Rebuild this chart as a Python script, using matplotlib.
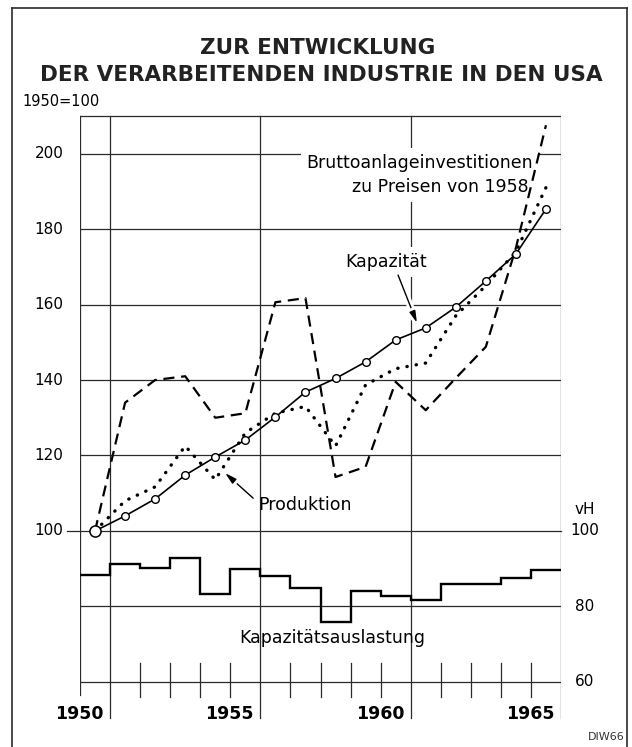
import matplotlib
matplotlib.use("Agg")
import matplotlib.pyplot as plt
import matplotlib.patheffects as pe
from matplotlib.lines import Line2D

# Daten (1950 = 100)
jahre = list(range(1950, 1966))
kapazitaet = [100, 104, 108.5, 114.8, 119.6, 124.1, 130.2, 136.8,
              140.4, 144.8, 150.6, 153.8, 159.3, 166.2, 173.4, 185.3]
produktion = [100, 108, 111.7, 122.5, 113.6, 126, 131.2, 133,
              122.5, 138.7, 143, 144.5, 157, 165, 174, 191]
investitionen = [100, 134, 140, 141, 130, 131.2, 160.6, 161.7,
                 114.3, 117, 139.5, 132, 140.5, 148.8, 175, 207.5]
# Kapazitätsauslastung in vH
auslastung = [88.3, 91.3, 90.2, 92.9, 83.3, 89.9, 88, 85,
              75.9, 84, 82.8, 81.7, 86, 86, 87.6, 89.7]

links_werte = [200, 180, 160, 140, 120, 100]
rechts_werte = [100, 80, 60]
jahr_labels = [1950, 1955, 1960, 1965]

W, H = 632, 747
fig = plt.figure(figsize=(W / 100, H / 100), dpi=100)


def fx(x):
    return x / W


def fy(y):
    return 1 - y / H


# Achse: 1950..1966 (jedes Jahr ein Intervall), 49.5..210.5
ax = fig.add_axes([fx(80), fy(721.6), 481 / W, (721.6 - 113.9) / H])
ax.set_xlim(1950, 1966)
ax.set_ylim(49.5, 210.5)
ax.axis("off")

grau = "#2a2a2a"
glw = 0.9

# Rahmen und Gitter
ax.plot([1950, 1966], [210, 210], color=grau, lw=glw)
for w in [200, 180, 160, 140, 120, 80, 60]:
    ax.plot([1950, 1966], [w, w], color=grau, lw=glw, zorder=1)
ax.plot([1949.57, 1966], [100, 100], color=grau, lw=glw, zorder=1, clip_on=False)
ax.plot([1950, 1950], [56.5, 210], color=grau, lw=glw)
for j in [1951, 1956, 1961, 1966]:
    ax.plot([j, j], [50.5, 210], color=grau, lw=glw, zorder=1)
for j in range(1952, 1966):
    if j not in (1956, 1961):
        ax.plot([j, j], [56, 65], color=grau, lw=glw, zorder=1)

# Linien
x = [j + 0.5 for j in jahre]
ax.plot(x, investitionen, color="black", lw=1.6, linestyle=(0, (5, 3)), zorder=3)
ax.plot(x, produktion, color="black", lw=2.4, linestyle=(0, (0.1, 2.7)),
        dash_capstyle="round", zorder=3)
ax.plot(x, kapazitaet, color="black", lw=1.2, marker="o", ms=5.5,
        mfc="white", mec="black", mew=1, zorder=4)
ax.plot(x[0], kapazitaet[0], marker="o", ms=8, mfc="white", mec="black",
        mew=1.1, zorder=5)
ax.stairs(auslastung, jahre + [1966], baseline=None, color="black", lw=1.7, zorder=3)

# Beschriftung Achsen
for w in links_werte:
    ax.text(1949.45, w, str(w), ha="right", va="center", fontsize=11, clip_on=False)
ax.text(1966.8, 105.6, "vH", ha="center", va="center", fontsize=11)
for w in rechts_werte:
    ax.text(1966.8, w, str(w), ha="center", va="center", fontsize=11)
for j in jahr_labels:
    ax.text(j + 1 - 0.22, 51.5, str(j), ha="right", va="center",
            fontsize=12.5, fontweight="bold")

weiss = dict(boxstyle="square,pad=0.35", fc="white", ec="none")
ax.text(1961.31, 197.5, "Bruttoanlageinvestitionen", ha="center", va="center",
        fontsize=12.5, bbox=weiss, zorder=2)
ax.text(1961.98, 191.1, "zu Preisen von 1958", ha="center", va="center",
        fontsize=12.5, bbox=weiss, zorder=2)
ax.text(1958.82, 171.3, "Kapazität", ha="left", va="center", fontsize=12.5,
        bbox=weiss, zorder=2)
ax.text(1955.92, 106.9, "Produktion", ha="left", va="center", fontsize=12.5, zorder=2)
ax.text(1958.38, 71.7, "Kapazitätsauslastung", ha="center", va="center", fontsize=12.5)

pfeil = dict(arrowstyle="-|>,head_length=0.7,head_width=0.18", color="black",
             lw=1, shrinkA=0, shrinkB=0,
             path_effects=[pe.withStroke(linewidth=5, foreground="white")])
ax.annotate("", xy=(1961.21, 155.1), xytext=(1960.58, 167.8), arrowprops=pfeil, zorder=2)
ax.annotate("", xy=(1954.82, 115.4), xytext=(1955.76, 108.7), arrowprops=pfeil, zorder=2)

# Titel und Rahmen
fig.text(fx(318), fy(48), "ZUR ENTWICKLUNG", ha="center", va="center",
         fontsize=15.5, fontweight="bold", color="#222222")
fig.text(fx(321), fy(75), "DER VERARBEITENDEN INDUSTRIE IN DEN USA",
         ha="center", va="center", fontsize=15.5, fontweight="bold", color="#222222")
fig.text(fx(22), fy(101), "1950=100", ha="left", va="center", fontsize=10.5)
fig.text(fx(625), fy(737), "DIW66", ha="right", va="center", fontsize=8, color="#333333")

for (x0, y0, x1, y1) in [(12, 8, 627, 8), (12, 8, 12, 747), (627, 8, 627, 747)]:
    fig.add_artist(Line2D([fx(x0), fx(x1)], [fy(y0), fy(y1)],
                          transform=fig.transFigure, color=grau, lw=1.2))

fig.savefig("out.png", dpi=100, facecolor="white")
